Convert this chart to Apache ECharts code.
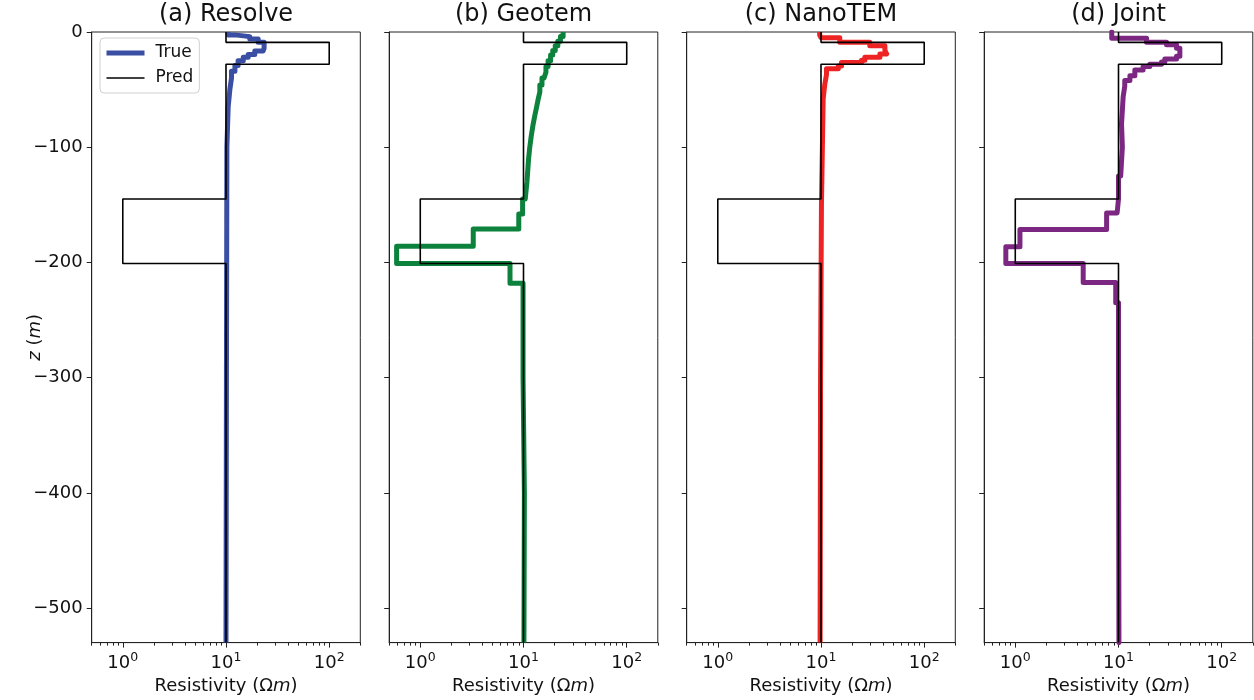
<!DOCTYPE html>
<html><head><meta charset="utf-8">
<script src="https://cdn.jsdelivr.net/npm/echarts@6/dist/echarts.min.js"></script>
<style>html,body{margin:0;padding:0;background:#fff}#c{width:1254px;height:700px}</style>
</head><body><div id="c"></div>
<script>
// ---------- data ----------
const panelTitles = ['(a) Resolve', '(b) Geotem', '(c) NanoTEM', '(d) Joint'];
const seriesNames = ['True', 'Geotem', 'NanoTEM', 'Joint'];
const depthBottom = -530;
const xMajorTicks = [1, 10, 100];
const xMinorTicks = [0.5, 0.6, 0.7, 0.8, 0.9, 2, 3, 4, 5, 6, 7, 8, 9, 20, 30, 40, 50, 60, 70, 80, 90, 200];
const yTicks = [0, -100, -200, -300, -400, -500];

// Pred model (layer tops in m, resistivity in ohm-m)
const predTops = [0, -9, -28, -145, -201];
const predVals = [10, 100, 10, 1, 10];

// (a) Resolve
const resolveTops = [0, -2.5, -4, -6, -9, -14, -16.5, -19.5, -22, -25, -29, -34, -40, -50, -65, -100, -300];
const resolveVals = [10.5, 12.2, 17.0, 20.5, 23.4, 22.9, 19.0, 16.4, 14.7, 13.1, 12.2, 11.3, 10.9, 10.5, 10.2, 10.1, 10.0];

// (b) Geotem
const geotemTops = [0, -4, -8, -12, -16, -20, -25, -30, -35, -40, -46, -52, -58, -65, -72, -80, -90, -100, -110, -120, -130, -145, -158, -171, -186, -201, -218, -300, -400];
const geotemVals = [24.2, 22.8, 21.5, 20.3, 19.2, 18.3, 17.3, 16.5, 15.8, 15.1, 14.4, 13.9, 13.4, 12.9, 12.4, 11.9, 11.5, 11.2, 11.0, 10.8, 10.4, 9.8, 9.0, 3.26, 0.59, 7.4, 9.9, 10.2, 10.1];

// (c) NanoTEM
const nanotemTops = [0, -2.5, -5, -9, -12, -16, -19, -22, -24.5, -26.5, -29.5, -32, -37, -45, -58, -150, -300];
const nanotemVals = [9.7, 10.0, 15.2, 29.7, 41.6, 43.2, 37.2, 26.6, 24.7, 15.8, 14.7, 11.3, 10.9, 10.5, 10.1, 9.9, 9.8];

// (d) Joint
const jointTops = [0, -5.5, -9, -11, -14, -21, -23.5, -26, -28, -30, -33, -38, -42, -47, -56, -80, -100, -125, -145, -157, -171.5, -186.5, -201, -217.5, -235, -300];
const jointVals = [8.6, 18.7, 29.2, 36.5, 39.3, 36.5, 28.1, 26.1, 20.1, 17.3, 14.4, 12.9, 11.5, 11.1, 10.7, 10.9, 10.5, 10.0, 9.7, 7.67, 1.11, 0.81, 4.55, 9.4, 10.0, 10.1];

const profiles = [
  [resolveTops, resolveVals],
  [geotemTops, geotemVals],
  [nanotemTops, nanotemVals],
  [jointTops, jointVals]
];
const colors = ['#3a4fa3', '#0c823c', '#ee2424', '#7c2882'];

// ---------- layout ----------
const FONT = 'DejaVu Sans';
const gLeft = [91.7, 389.2, 686.7, 984.2];
const gWidth = 268.6, gTop = 32, gHeight = 611;

function steps(tops, vals, bottom) {
  const pts = [];
  for (let i = 0; i < tops.length; i++) {
    const b = i + 1 < tops.length ? tops[i + 1] : bottom;
    pts.push([vals[i], tops[i]], [vals[i], b]);
  }
  return pts;
}
const minus = v => (v < 0 ? '\u2212' + Math.abs(v) : String(v));
const AX = '#222';

const grid = [], xAxis = [], yAxis = [], series = [], title = [];
for (let i = 0; i < 4; i++) {
  grid.push({ left: gLeft[i], top: gTop, width: gWidth, height: gHeight, show: true, borderColor: AX, borderWidth: 1, backgroundColor: 'transparent' });
  title.push({
    text: panelTitles[i], left: gLeft[i] + gWidth / 2, top: 3, textAlign: 'center', padding: 0,
    textStyle: { fontFamily: FONT, fontSize: 24, fontWeight: 'normal', color: '#111' }
  });
  // main log axis
  xAxis.push({
    type: 'log', logBase: 10, gridIndex: i, min: 0.5, max: 200, position: 'bottom',
    axisLine: { show: true, onZero: false, lineStyle: { color: AX, width: 1 } },
    axisTick: { show: true, inside: false, length: 5, lineStyle: { color: AX }, customValues: xMajorTicks },
    splitLine: { show: false }, minorTick: { show: false },
    axisLabel: {
      customValues: xMajorTicks, margin: 9, color: '#111', fontFamily: FONT, fontSize: 18,
      formatter: v => '10{sup|' + Math.round(Math.log10(v)) + '}',
      rich: { sup: { fontSize: 12.5, fontFamily: FONT, color: '#111', padding: [0, 0, 10, 0] } }
    },
    name: 'Resistivity (\u03A9{it|m})', nameLocation: 'middle', nameGap: 34,
    nameTextStyle: { fontFamily: FONT, fontSize: 18, color: '#111', rich: { it: { fontStyle: 'italic', fontFamily: FONT, fontSize: 18, color: '#111' } } }
  });
  // minor tick axis (log10 space)
  xAxis.push({
    type: 'value', gridIndex: i, min: Math.log10(0.5), max: Math.log10(200), position: 'bottom', offset: 0,
    axisLine: { show: false, onZero: false }, splitLine: { show: false },
    axisTick: { show: true, inside: false, length: 3, lineStyle: { color: AX }, customValues: xMinorTicks.map(Math.log10) },
    axisLabel: { show: false }
  });
  yAxis.push({
    type: 'value', gridIndex: i, min: depthBottom, max: 0, position: 'left',
    axisLine: { show: true, onZero: false, lineStyle: { color: AX, width: 1 } },
    axisTick: { show: true, inside: false, length: 5, lineStyle: { color: AX }, customValues: yTicks },
    splitLine: { show: false },
    axisLabel: { show: i === 0, customValues: yTicks, margin: 9, color: '#111', fontFamily: FONT, fontSize: 18, formatter: minus },
    name: i === 0 ? '{it|z} ({it|m})' : '', nameLocation: 'middle', nameGap: 47, nameRotate: 90, nameMoveOverlap: false,
    nameTextStyle: { fontFamily: FONT, fontSize: 18, color: '#111', rich: { it: { fontStyle: 'italic', fontFamily: FONT, fontSize: 18, color: '#111' } } }
  });
  const [tops, vals] = profiles[i];
  series.push({
    type: 'line', name: seriesNames[i], xAxisIndex: 2 * i, yAxisIndex: i,
    data: steps(tops, vals, depthBottom), showSymbol: false, symbol: 'none',
    lineStyle: { color: colors[i], width: 5, join: 'round', cap: i === 3 ? 'round' : 'butt' }, itemStyle: { color: colors[i] },
    silent: true, z: 2
  });
  series.push({
    type: 'line', name: 'Pred', xAxisIndex: 2 * i, yAxisIndex: i,
    data: steps(predTops, predVals, depthBottom), showSymbol: false, symbol: 'none',
    lineStyle: { color: '#000', width: 1.6 }, itemStyle: { color: '#000' },
    silent: true, z: 3
  });
}

const chart = echarts.init(document.getElementById('c'), null, { renderer: 'canvas' });
chart.setOption({
  animation: false,
  backgroundColor: '#fff',
  title, grid, xAxis, yAxis, series,
  legend: {
    data: [
      { name: 'True', lineStyle: { width: 5, color: colors[0] } },
      { name: 'Pred', lineStyle: { width: 1.6, color: '#000' } }
    ],
    orient: 'vertical', left: 100, top: 38,
    backgroundColor: '#fff', borderColor: '#d0d0d0', borderWidth: 1, borderRadius: 4,
    padding: [5, 6, 5, 4], itemWidth: 38, itemHeight: 14, itemGap: 5,
    itemStyle: { opacity: 0 },
    textStyle: { fontFamily: FONT, fontSize: 17, color: '#111', lineHeight: 20, padding: [0, 0, 0, 6] }
  }
});
</script></body></html>
